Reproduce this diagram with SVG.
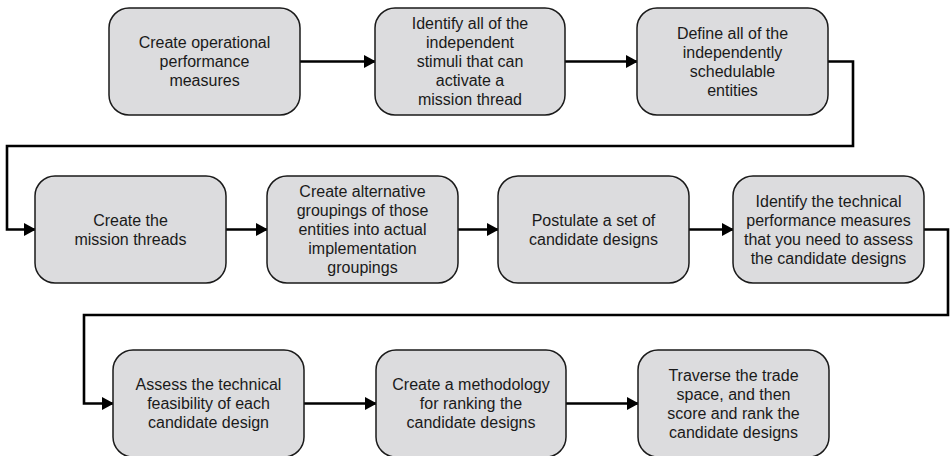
<svg xmlns="http://www.w3.org/2000/svg" width="950" height="456" viewBox="0 0 950 456">
  <style>
    .box { fill: #dcdcde; stroke: #1a1a1a; stroke-width: 1.5; }
    .lbl { font-family: "Liberation Sans", Arial, sans-serif; font-size: 16px; fill: #1a1a1a; text-anchor: middle; }
    .conn { fill: none; stroke: #000; stroke-width: 2.6; stroke-linejoin: miter; marker-end: url(#arrow); }
  </style>
  <defs>
    <marker id="arrow" markerUnits="userSpaceOnUse" markerWidth="12" markerHeight="13" refX="11" refY="6.5" orient="auto">
      <path d="M0,0 L12,6.5 L0,13 z" fill="#000"/>
    </marker>
  </defs>
  <rect width="950" height="456" fill="#fff"/>

  <!-- connectors -->
  <g id="connectors">
    <path class="conn" d="M300,61.5 H375"/>
    <path class="conn" d="M565,61.5 H637"/>
    <path class="conn" d="M828,61.5 H853 V146 H7 V229.5 H35"/>
    <path class="conn" d="M226,229.5 H267"/>
    <path class="conn" d="M458,229.5 H498"/>
    <path class="conn" d="M689,229.5 H733"/>
    <path class="conn" d="M924,229.5 H948 V315 H84 V403.5 H113"/>
    <path class="conn" d="M304,403.5 H376"/>
    <path class="conn" d="M566,403.5 H638"/>
  </g>

  <!-- row 1 -->
  <g id="n1">
    <rect class="box" x="109" y="8" width="191" height="107" rx="20"/>
    <text class="lbl" x="204.5" y="48">Create operational</text>
    <text class="lbl" x="204.5" y="67">performance</text>
    <text class="lbl" x="204.5" y="86">measures</text>
  </g>
  <g id="n2">
    <rect class="box" x="375" y="8" width="190" height="107" rx="20"/>
    <text class="lbl" x="470" y="29">Identify all of the</text>
    <text class="lbl" x="470" y="48">independent</text>
    <text class="lbl" x="470" y="67">stimuli that can</text>
    <text class="lbl" x="470" y="86">activate a</text>
    <text class="lbl" x="470" y="105">mission thread</text>
  </g>
  <g id="n3">
    <rect class="box" x="637" y="8" width="191" height="107" rx="20"/>
    <text class="lbl" x="732.5" y="38.5">Define all of the</text>
    <text class="lbl" x="732.5" y="57.5">independently</text>
    <text class="lbl" x="732.5" y="76.5">schedulable</text>
    <text class="lbl" x="732.5" y="95.5">entities</text>
  </g>

  <!-- row 2 -->
  <g id="n4">
    <rect class="box" x="35" y="176" width="191" height="107" rx="20"/>
    <text class="lbl" x="130.5" y="225.5">Create the</text>
    <text class="lbl" x="130.5" y="244.5">mission threads</text>
  </g>
  <g id="n5">
    <rect class="box" x="267" y="176" width="191" height="107" rx="20"/>
    <text class="lbl" x="362.5" y="197">Create alternative</text>
    <text class="lbl" x="362.5" y="216">groupings of those</text>
    <text class="lbl" x="362.5" y="235">entities into actual</text>
    <text class="lbl" x="362.5" y="254">implementation</text>
    <text class="lbl" x="362.5" y="273">groupings</text>
  </g>
  <g id="n6">
    <rect class="box" x="498" y="176" width="191" height="107" rx="20"/>
    <text class="lbl" x="593.5" y="225.5">Postulate a set of</text>
    <text class="lbl" x="593.5" y="244.5">candidate designs</text>
  </g>
  <g id="n7">
    <rect class="box" x="733" y="176" width="191" height="107" rx="20"/>
    <text class="lbl" x="828.5" y="206.5">Identify the technical</text>
    <text class="lbl" x="828.5" y="225.5">performance measures</text>
    <text class="lbl" x="828.5" y="244.5">that you need to assess</text>
    <text class="lbl" x="828.5" y="263.5">the candidate designs</text>
  </g>

  <!-- row 3 -->
  <g id="n8">
    <rect class="box" x="113" y="350" width="191" height="107" rx="20"/>
    <text class="lbl" x="208.5" y="390">Assess the technical</text>
    <text class="lbl" x="208.5" y="409">feasibility of each</text>
    <text class="lbl" x="208.5" y="428">candidate design</text>
  </g>
  <g id="n9">
    <rect class="box" x="376" y="350" width="190" height="107" rx="20"/>
    <text class="lbl" x="471" y="390">Create a methodology</text>
    <text class="lbl" x="471" y="409">for ranking the</text>
    <text class="lbl" x="471" y="428">candidate designs</text>
  </g>
  <g id="n10">
    <rect class="box" x="638" y="350" width="191" height="107" rx="20"/>
    <text class="lbl" x="733.5" y="380.5">Traverse the trade</text>
    <text class="lbl" x="733.5" y="399.5">space, and then</text>
    <text class="lbl" x="733.5" y="418.5">score and rank the</text>
    <text class="lbl" x="733.5" y="437.5">candidate designs</text>
  </g>
</svg>
